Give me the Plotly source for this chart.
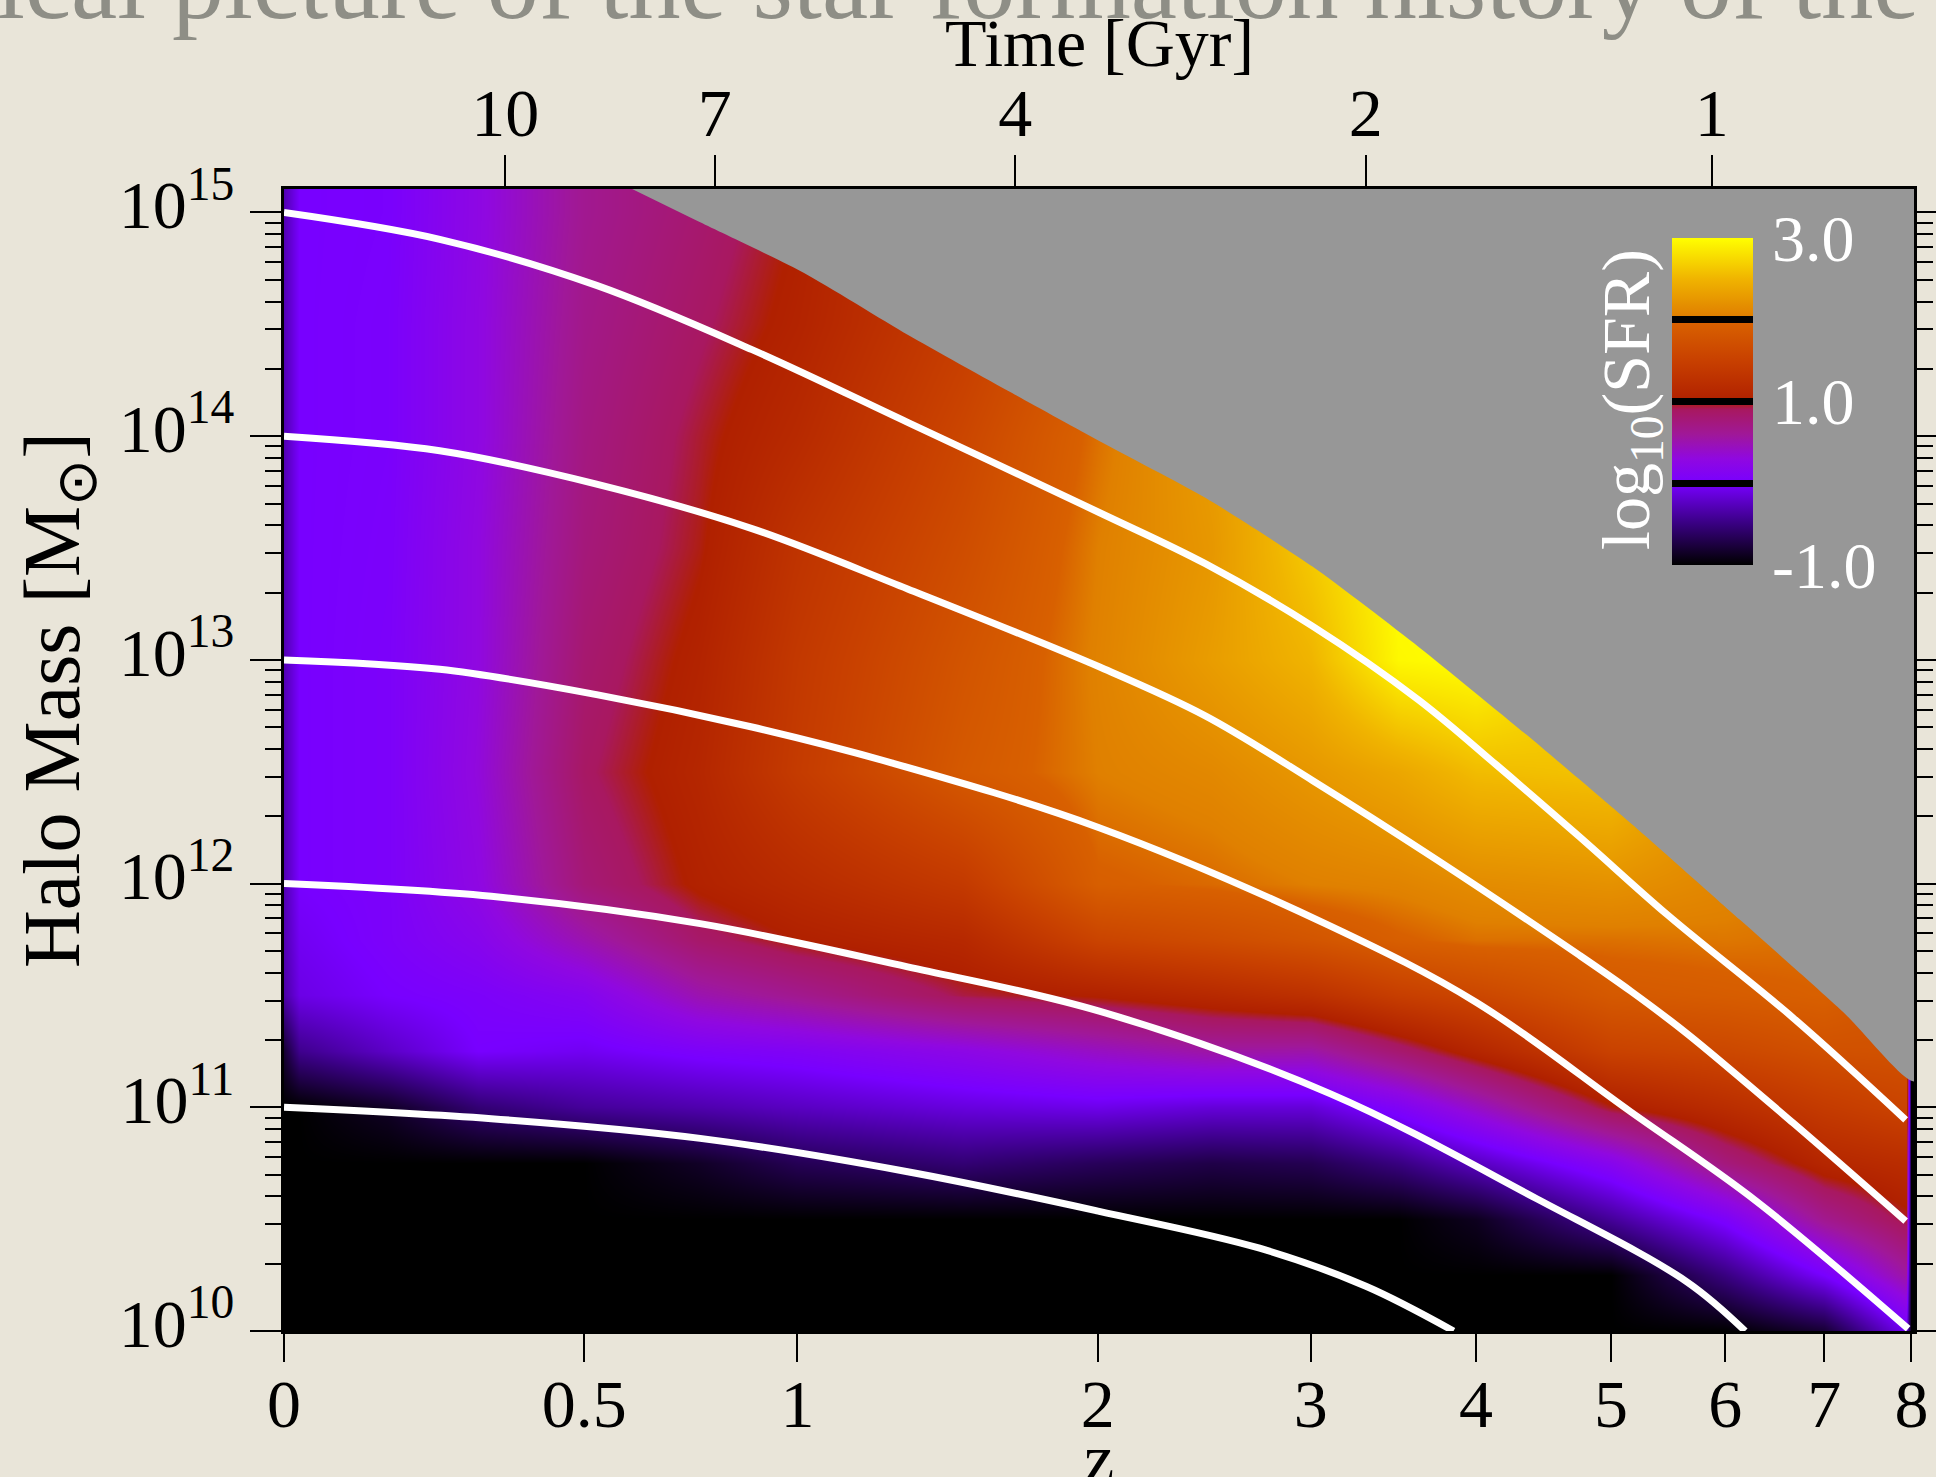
import math
import plotly.graph_objects as go

# ---------------- data ----------------
# grid nodes: redshift (columns) and log10 halo mass (rows)
z_nodes = [0, 0.02, 0.15, 0.3, 0.5, 0.75, 1.0, 1.5, 2.0, 2.5, 3.0, 3.5, 4.0, 5.0, 6.0, 7.0, 7.93, 8.0]
logm_nodes = [10.0, 10.25, 10.5, 10.75, 11.0, 11.25, 11.5, 11.75, 12.0, 12.5, 13.0, 13.5, 14.0, 14.5, 15.0, 15.2]

# log10(SFR) estimated from the colours, one row per mass node
# (the last column is the thin black strip at the right edge of the map)
sfr_m10_00 = [-1, -1, -1, -1, -1, -1, -1, -1, -1, -1, -1, -1, -1, -1, -1, -0.8, -0.05, -1]
sfr_m10_25 = [-1, -1, -1, -1, -1, -1, -1, -1, -1, -1, -1, -1, -1, -1, -0.5, 0.0, 0.55, -1]
sfr_m10_50 = [-1, -1, -1, -1, -1, -1, -1, -1, -1, -1, -1, -1, -0.88, -0.4, 0.05, 0.65, 0.95, -1]
sfr_m10_75 = [-1, -1, -1, -1, -1, -0.85, -0.67, -0.55, -0.65, -0.72, -0.68, -0.5, -0.25, 0.18, 0.75, 1.1, 1.2, -1]
sfr_m11_00 = [-1, -1, -0.85, -0.55, -0.4, -0.32, -0.24, -0.13, -0.08, -0.15, -0.15, 0.09, 0.41, 0.98, 1.2, 1.42, 1.55, -1]
sfr_m11_25 = [-0.8, -0.45, -0.22, 0.0, -0.05, 0.05, 0.1, 0.25, 0.42, 0.55, 0.53, 0.82, 1.09, 1.52, 1.6, 1.73, 1.75, -1]
sfr_m11_50 = [-0.35, -0.1, 0.0, 0.05, 0.15, 0.5, 0.65, 0.93, 1.02, 1.14, 1.26, 1.47, 1.59, 1.85, 1.9, 1.95, 1.75, -1]
sfr_m11_75 = [-0.3, -0.05, 0.05, 0.18, 0.5, 0.85, 1.0, 1.13, 1.55, 1.67, 1.79, 1.93, 2.0, 2.0, 2.02, 2.0, 1.75, -1]
sfr_m12_00 = [-0.3, 0.0, 0.05, 0.28, 0.78, 1.03, 1.17, 1.4, 1.93, 1.98, 2.05, 2.08, 2.15, 2.2, 2.1, 2.0, 1.75, -1]
sfr_m12_50 = [-0.3, 0.0, 0.05, 0.32, 0.88, 1.1, 1.42, 1.85, 2.05, 2.12, 2.25, 2.38, 2.55, 2.6, 2.2, 2.0, 1.75, -1]
sfr_m13_00 = [-0.3, 0.0, 0.05, 0.3, 0.82, 1.05, 1.38, 1.78, 2.07, 2.3, 2.5, 2.95, 3.0, 2.6, 2.2, 2.0, 1.75, -1]
sfr_m13_50 = [-0.3, 0.0, 0.04, 0.3, 0.76, 0.98, 1.3, 1.68, 2.05, 2.25, 2.65, 3.0, 3.0, 2.6, 2.2, 2.0, 1.75, -1]
sfr_m14_00 = [-0.3, 0.0, 0.03, 0.28, 0.72, 0.95, 1.15, 1.58, 2.0, 2.3, 2.6, 3.0, 3.0, 2.6, 2.2, 2.0, 1.75, -1]
sfr_m14_50 = [-0.3, 0.0, 0.03, 0.28, 0.68, 0.88, 1.05, 1.45, 1.85, 2.2, 2.6, 3.0, 3.0, 2.6, 2.2, 2.0, 1.75, -1]
sfr_m15_00 = [-0.3, 0.0, 0.02, 0.27, 0.64, 0.82, 1.0, 1.4, 1.7, 2.0, 2.6, 3.0, 3.0, 2.6, 2.2, 2.0, 1.75, -1]
sfr_m15_20 = [-0.3, 0.0, 0.02, 0.27, 0.64, 0.82, 1.0, 1.4, 1.7, 2.0, 2.6, 3.0, 3.0, 2.6, 2.2, 2.0, 1.75, -1]

# edge of the region without model values (grey)
boundary_z = [0.6, 0.754, 1.018, 1.321, 1.671, 2.006, 2.469, 3.011, 3.629, 4.351, 5.176, 6.14, 7.24, 7.99]
boundary_logm = [15.105, 14.956, 14.73, 14.454, 14.194, 13.979, 13.725, 13.416, 13.057, 12.666, 12.263, 11.838, 11.413, 11.12]

# halo mass growth tracks (white curves)
track15_z = [0, 0.234, 0.525, 0.881, 1.321, 2.006, 2.469, 3.011, 3.629, 4.14, 4.748, 5.475, 6.671, 7.93]
track15_logm = [15.0, 14.88, 14.674, 14.387, 14.062, 13.659, 13.43, 13.15, 12.82, 12.53, 12.21, 11.86, 11.4, 10.944]
track14_z = [0, 0.234, 0.525, 0.881, 1.321, 2.006, 2.469, 3.011, 3.745, 4.748, 5.16, 5.646, 6.671, 7.93]
track14_logm = [14.0, 13.935, 13.786, 13.587, 13.317, 12.969, 12.75, 12.46, 12.105, 11.68, 11.52, 11.33, 10.93, 10.491]
track13_z = [0, 0.234, 0.525, 0.881, 1.271, 2.006, 3.108, 4.0, 5.16, 6.3, 7.96]
track13_logm = [13.0, 12.958, 12.845, 12.70, 12.54, 12.25, 11.81, 11.47, 10.98, 10.58, 10.01]
track12_z = [0, 0.323, 0.754, 1.321, 2.006, 3.108, 4.43, 5.646, 6.19]
track12_logm = [12.0, 11.943, 11.821, 11.628, 11.43, 11.06, 10.59, 10.22, 10.0]
track11_z = [0, 0.323, 0.754, 1.321, 2.006, 2.733, 3.309, 3.85]
track11_logm = [11.0, 10.949, 10.861, 10.712, 10.535, 10.37, 10.2, 10.0]

# axis ticks
z_ticks = [0, 0.5, 1, 2, 3, 4, 5, 6, 7, 8]
z_tick_text = ["0", "0.5", "1", "2", "3", "4", "5", "6", "7", "8"]
time_tick_gyr = ["10", "7", "4", "2", "1"]
time_tick_z = [0.348, 0.789, 1.684, 3.308, 5.873]
mass_tick_exp = [10, 11, 12, 13, 14, 15]
cbar_line_vals = [-1, 0, 1, 2]
cbar_label_vals = [3, 1, -1]
cbar_label_text = ["3.0", "1.0", "-1.0"]

# ---------------- styling / geometry ----------------
W, H = 1936, 1477
PL, PR, PT, PB = 284, 1914, 189, 1331
X_RANGE = [0.0, math.log10(9.0) + 0.0015]
Y_RANGE = [10.0, 15.105]
SERIF = "Liberation Serif"
BG = "#E9E5D9"
GREY = "#979797"

CB_LEFT, CB_RIGHT, CB_TOP, CB_BOTTOM = 1672, 1753, 238, 565
VMIN, VMAX = -1.0, 3.0


def pxx(px):
    return (px - PL) / (PR - PL)


def pyy(py):
    return (PB - py) / (PB - PT)


def vnorm(v):
    return (v - VMIN) / (VMAX - VMIN)


colorscale = [
    [vnorm(-1.0), "#000000"],
    [vnorm(-0.5), "#380080"],
    [vnorm(0.0), "#7800FF"],
    [vnorm(0.3), "#9008E0"],
    [vnorm(0.6), "#A01898"],
    [vnorm(0.9), "#A81860"],
    [vnorm(1.0), "#B02000"],
    [vnorm(1.5), "#C84000"],
    [vnorm(1.95), "#D86000"],
    [vnorm(2.05), "#E08000"],
    [vnorm(2.5), "#F0B400"],
    [vnorm(3.0), "#FFFF00"],
]

log_sfr = [sfr_m10_00, sfr_m10_25, sfr_m10_50, sfr_m10_75, sfr_m11_00, sfr_m11_25,
           sfr_m11_50, sfr_m11_75, sfr_m12_00, sfr_m12_50, sfr_m13_00, sfr_m13_50,
           sfr_m14_00, sfr_m14_50, sfr_m15_00, sfr_m15_20]

fig = go.Figure()

fig.add_trace(go.Heatmap(
    x=[1 + z for z in z_nodes],
    y=[10 ** m for m in logm_nodes],
    z=log_sfr,
    zsmooth="best",
    zmin=VMIN, zmax=VMAX,
    colorscale=colorscale,
    hoverinfo="skip",
    colorbar=dict(
        thickness=CB_RIGHT - CB_LEFT, thicknessmode="pixels",
        len=CB_BOTTOM - CB_TOP, lenmode="pixels",
        x=pxx(CB_LEFT), xanchor="left", y=pyy(CB_TOP), yanchor="top",
        xpad=0, ypad=0, outlinewidth=0,
        tickmode="array", tickvals=cbar_line_vals,
        ticks="inside", ticklen=CB_RIGHT - CB_LEFT, tickwidth=7, tickcolor="black",
        showticklabels=False,
    ),
))

# grey region (no values)
x_far = 10 ** (X_RANGE[1] + 0.02)
y_far = 10 ** (Y_RANGE[1] + 0.2)
poly_x = [1 + z for z in boundary_z] + [x_far, x_far, 1 + boundary_z[0]]
poly_y = [10 ** m for m in boundary_logm] + [10 ** boundary_logm[-1], y_far, y_far]
fig.add_trace(go.Scatter(x=poly_x, y=poly_y, mode="lines", fill="toself",
                         fillcolor=GREY, line=dict(width=0, color=GREY, shape="spline", smoothing=0.6),
                         hoverinfo="skip", showlegend=False))

for tz, tm in [(track15_z, track15_logm), (track14_z, track14_logm), (track13_z, track13_logm),
               (track12_z, track12_logm), (track11_z, track11_logm)]:
    fig.add_trace(go.Scatter(x=[1 + z for z in tz], y=[10 ** m for m in tm], mode="lines",
                             line=dict(color="white", width=7, shape="spline", smoothing=1.0),
                             hoverinfo="skip", showlegend=False))

# anchor trace for the top (time) axis
fig.add_trace(go.Scatter(x=[2], y=[1e12], xaxis="x2", mode="markers",
                         marker=dict(size=1, opacity=0), hoverinfo="skip", showlegend=False))

tickfont = dict(family=SERIF, size=68, color="black")

minor_vals = [k * 10 ** e for e in range(10, 15) for k in range(2, 10)]

fig.update_layout(
    width=W, height=H,
    margin=dict(l=PL, r=W - PR, t=PT, b=H - PB, pad=0, autoexpand=False),
    paper_bgcolor=BG, plot_bgcolor=GREY,
    showlegend=False,
    font=dict(family=SERIF, color="black"),
    xaxis=dict(type="log", range=X_RANGE, tickmode="array", automargin=False,
               tickvals=[1 + z for z in z_ticks], ticktext=z_tick_text,
               ticks="outside", ticklen=28, tickwidth=2, tickcolor="black",
               showline=True, linewidth=3, linecolor="black", mirror=False,
               showgrid=False, zeroline=False, tickfont=tickfont, ticklabelstandoff=-17),
    xaxis2=dict(type="log", range=X_RANGE, overlaying="x", side="top", anchor="y",
                tickmode="array", automargin=False,
                tickvals=[1 + z for z in time_tick_z], ticktext=time_tick_gyr,
                ticks="outside", ticklen=31, tickwidth=2, tickcolor="black",
                showline=True, linewidth=3, linecolor="black",
                showgrid=False, zeroline=False, tickfont=tickfont, ticklabelstandoff=-8),
    yaxis=dict(type="log", range=Y_RANGE, tickmode="array", automargin=False,
               tickvals=[10 ** e for e in mass_tick_exp],
               ticktext=["10<sup>%d</sup>" % e for e in mass_tick_exp],
               ticks="outside", ticklen=31, tickwidth=2, tickcolor="black",
               minor=dict(tickmode="array", tickvals=minor_vals, ticks="outside",
                          ticklen=16, tickwidth=2, tickcolor="black", showgrid=False),
               showline=True, linewidth=3, linecolor="black", mirror="ticks",
               showgrid=False, zeroline=False, tickfont=tickfont, ticklabelstandoff=2,
               ticklabelshift=-8),
)


def note(text, px, py, size, color="black", xanchor="center", yanchor="middle", angle=0):
    return dict(text=text, x=pxx(px), y=pyy(py), xref="paper", yref="paper",
                xanchor=xanchor, yanchor=yanchor, textangle=angle, showarrow=False,
                font=dict(family=SERIF, size=size, color=color))


annotations = [
    # slide heading cut off at the top of the picture
    note("ical picture of the star formation history of the", -6, 42, 104,
         color="#8E8E86", xanchor="left", yanchor="bottom"),
    # axis titles
    note("Time [Gyr]", 1099, 43, 68),
    note("z", 1099, 1458, 68),
    note("Halo Mass [M<sub>\u2299</sub>]", 58, 700, 80, angle=-90),
    # colour bar title
    note("log<sub>10</sub>(SFR)", 1630, 400, 68, color="white", angle=-90),
]
for v, t in zip(cbar_label_vals, cbar_label_text):
    py = CB_TOP + (VMAX - v) / (VMAX - VMIN) * (CB_BOTTOM - CB_TOP)
    annotations.append(note(t, 1770, py, 66, color="white", xanchor="left"))
fig.update_layout(annotations=annotations)

fig.write_html("out.html", config={"displayModeBar": False},
               post_script="document.body.style.margin='0px';")
